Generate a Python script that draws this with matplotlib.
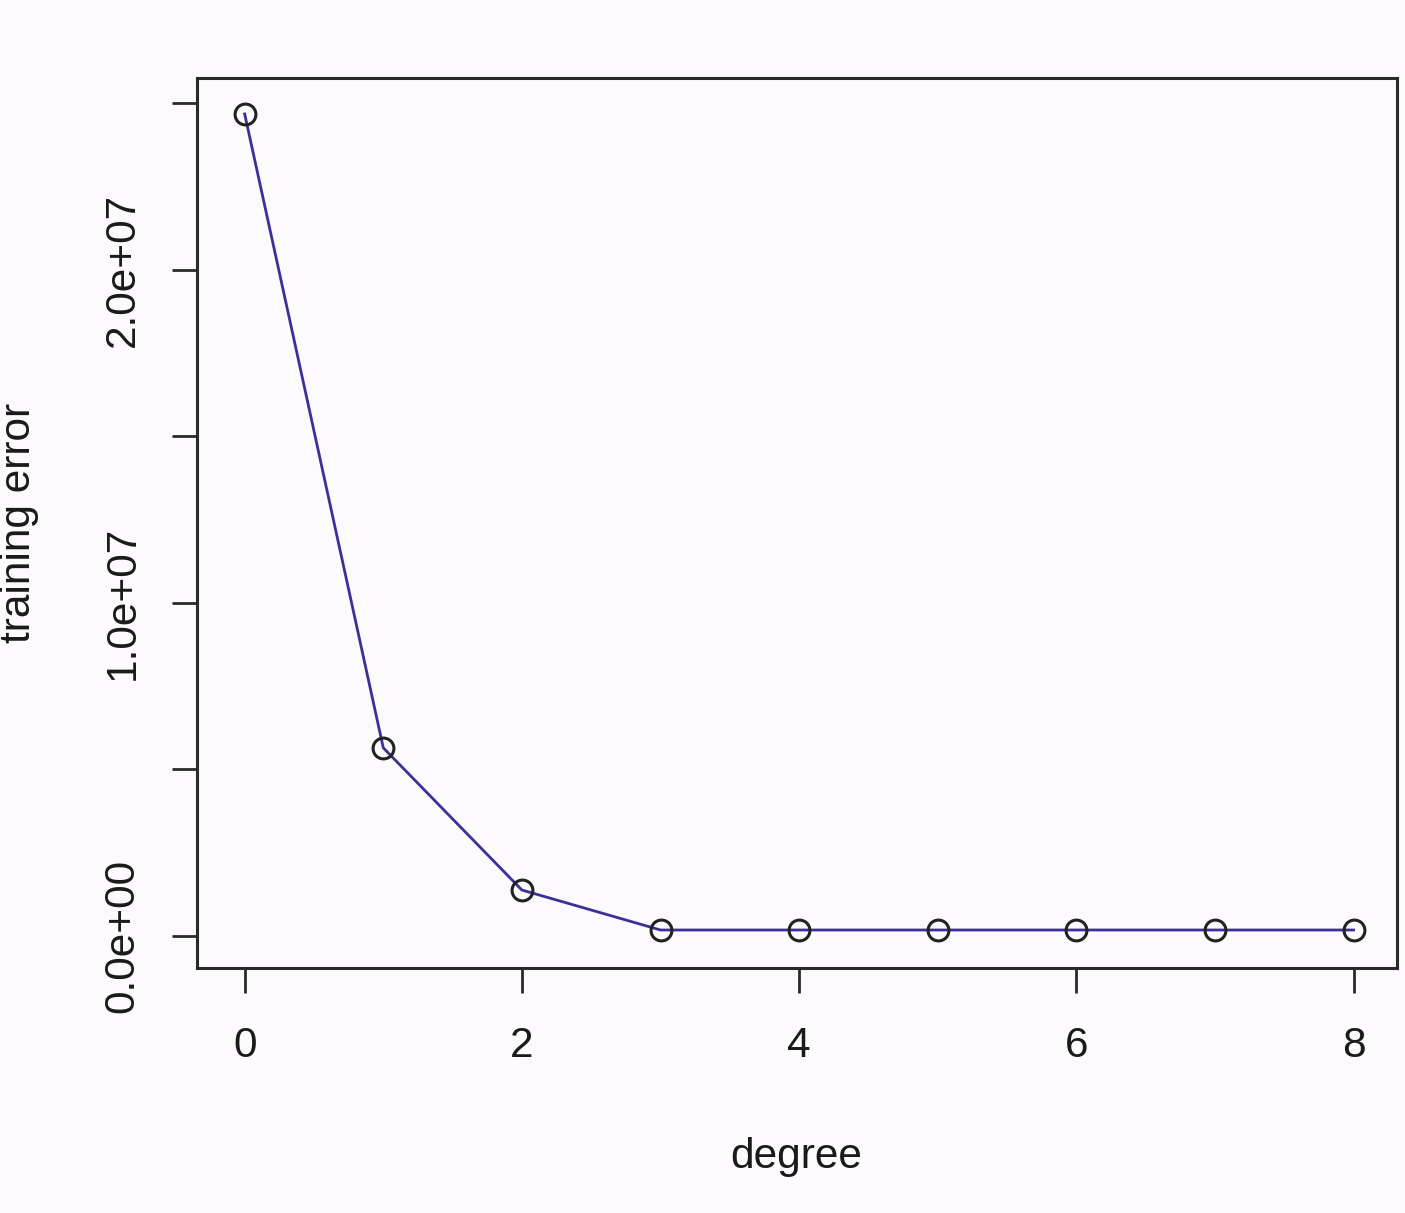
import matplotlib.pyplot as plt
import numpy as np

# training error by polynomial degree
degree = [0, 1, 2, 3, 4, 5, 6, 7, 8]
train_err = [2.468e7, 5.65e6, 1.38e6, 1.8e5, 1.8e5, 1.8e5, 1.8e5, 1.8e5, 1.8e5]

xticks = [0, 2, 4, 6, 8]
yticks = [0, 5e6, 1e7, 1.5e7, 2e7, 2.5e7]
ytick_labels = ['0.0e+00', '', '1.0e+07', '', '2.0e+07', '']

plt.rcParams['font.family'] = ['Liberation Sans', 'DejaVu Sans']
bg = '#fcfafc'

fig = plt.figure(figsize=(14.05, 12.13), dpi=100, facecolor=bg)
ax = fig.add_axes([0.140, 0.202, 0.854, 0.734], facecolor=bg)

ax.plot(degree, train_err, color='#3d2f9a', lw=2.0, zorder=2)
ax.plot(degree, train_err, ls='none', marker='o', ms=15, mfc='none',
        mec='#222222', mew=2.2, zorder=3)

ax.set_xlim(-0.346, 8.31)
ax.set_ylim(-9.6e5, 2.577e7)

ax.set_xticks(xticks)
ax.set_xticklabels([str(t) for t in xticks])
ax.set_yticks(yticks)
ax.set_yticklabels(ytick_labels, rotation=90, va='center')

for s in ax.spines.values():
    s.set_linewidth(2.2)
    s.set_color('#2a2a2a')
ax.tick_params(axis='both', length=18, width=2.0, color='#2a2a2a',
               labelsize=30.5, labelcolor='#1a1a1a')
ax.tick_params(axis='x', pad=24)
ax.tick_params(axis='y', pad=21)

ax.set_xlabel('degree', fontsize=30.5, labelpad=51, color='#1a1a1a')
ax.set_ylabel('training error', fontsize=30.5, labelpad=46, color='#1a1a1a')

fig.savefig('out.png', dpi=100, facecolor=bg)
